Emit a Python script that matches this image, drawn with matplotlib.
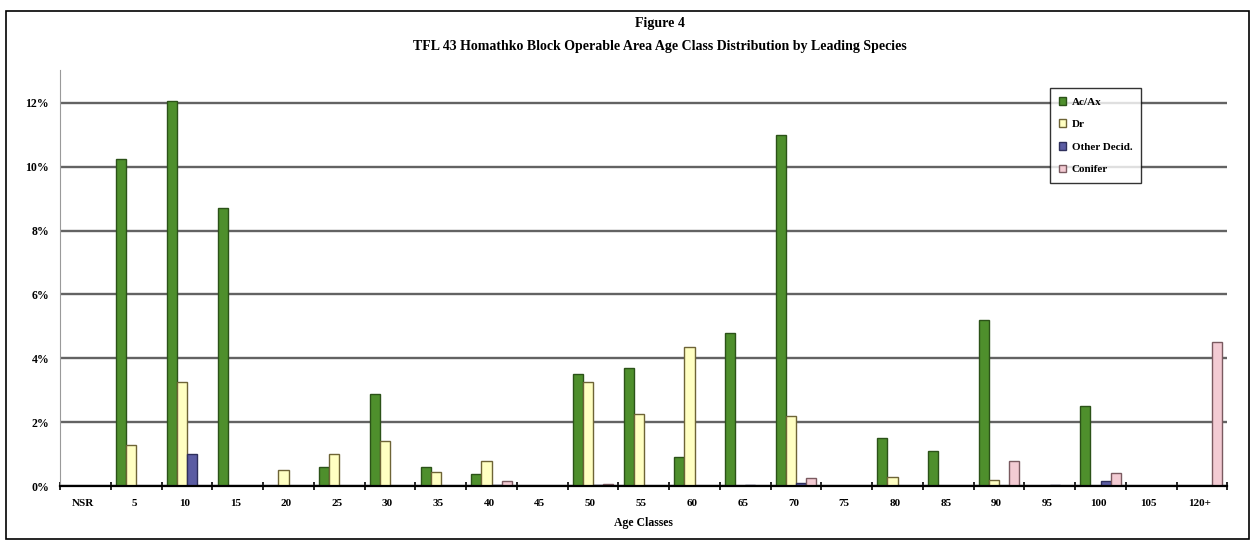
import numpy as np
import matplotlib.pyplot as plt
from matplotlib.ticker import FuncFormatter
from matplotlib.patches import Rectangle

# age classes along the x axis
age_classes = ["NSR", "5", "10", "15", "20", "25", "30", "35", "40", "45", "50", "55",
               "60", "65", "70", "75", "80", "85", "90", "95", "100", "105", "120+"]

# percent of operable area by leading species
ac_ax = [0, 10.25, 12.05, 8.7, 0, 0.6, 2.9, 0.6, 0.37, 0, 3.5, 3.7,
         0.9, 4.8, 11.0, 0, 1.5, 1.1, 5.2, 0, 2.5, 0, 0]
dr = [0, 1.3, 3.25, 0, 0.5, 1.0, 1.4, 0.45, 0.8, 0, 3.25, 2.25,
      4.35, 0, 2.2, 0, 0.3, 0, 0.2, 0, 0, 0, 0]
other_decid = [0, 0, 1.0, 0, 0, 0, 0, 0, 0.05, 0, 0.03, 0,
               0, 0.05, 0.1, 0, 0, 0, 0, 0.03, 0.15, 0, 0]
conifer = [0, 0, 0, 0, 0, 0, 0, 0, 0.15, 0, 0.07, 0,
           0, 0, 0.25, 0, 0, 0, 0.8, 0, 0.4, 0, 4.5]

series = [
    ("Ac/Ax", ac_ax, "#4e8f2c", "#2b5218"),
    ("Dr", dr, "#ffffc2", "#6e6436"),
    ("Other Decid.", other_decid, "#5b5ca3", "#2e2f5c"),
    ("Conifer", conifer, "#f3cbd3", "#7a5a60"),
]

serif = "Liberation Serif"
plt.rcParams["font.family"] = serif
plt.rcParams["font.weight"] = "bold"

fig = plt.figure(figsize=(12.55, 5.42), dpi=100)
ax = fig.add_axes([0.048, 0.103, 0.930, 0.768])

x = np.arange(len(age_classes))
w = 0.2
offsets = [-0.3, -0.1, 0.1, 0.3]
handles = []
for (name, vals, fc, ec), off in zip(series, offsets):
    b = ax.bar(x + off, vals, width=w, color=fc, edgecolor=ec, linewidth=1.0,
               label=name, zorder=3)
    handles.append(b)

ax.set_xlim(-0.5, len(age_classes) - 0.5)
ax.set_ylim(0, 13.03)
ax.set_yticks(np.arange(0, 13, 2))
ax.yaxis.set_major_formatter(FuncFormatter(lambda v, p: f"{v:.0f}%"))
ax.set_xticks(x - 0.05)
ax.set_xticklabels(age_classes)
ax.set_xticks(np.arange(-0.5, len(age_classes), 1), minor=True)
ax.tick_params(axis="x", which="major", length=0, labelsize=8, pad=9)
ax.tick_params(axis="x", which="minor", length=6, direction="inout", width=1.2)
ax.tick_params(axis="y", length=0, labelsize=8.5, pad=8)
for t in ax.get_xticklabels() + ax.get_yticklabels():
    t.set_fontweight("bold")

ax.grid(axis="y", color="#636363", linewidth=1.7, zorder=1)
for s in ["top", "right"]:
    ax.spines[s].set_visible(False)
ax.spines["left"].set_color("#9a9a9a")
ax.spines["bottom"].set_color("black")
ax.spines["bottom"].set_linewidth(1.6)
ax.spines["bottom"].set_zorder(4)

ax.set_xlabel("Age Classes", fontsize=8.5, fontweight="bold", labelpad=7)

leg = ax.legend(handles=handles, loc="upper left", bbox_to_anchor=(0.843, 0.97),
                frameon=True, fancybox=False, handlelength=0.7,
                handleheight=0.7, handletextpad=0.5, labelspacing=1.15,
                borderpad=0.8, prop={"family": serif, "weight": "bold", "size": 8})
leg.get_frame().set_edgecolor("black")
leg.get_frame().set_linewidth(1.0)
leg.set_zorder(5)

fig.text(0.526, 0.957, "Figure 4", ha="center", va="center",
         fontsize=10, fontweight="bold")
fig.text(0.526, 0.915,
         "TFL 43 Homathko Block Operable Area Age Class Distribution by Leading Species",
         ha="center", va="center", fontsize=10, fontweight="bold")

# page frame
fig.patches.append(Rectangle((0.005, 0.005), 0.99, 0.975, transform=fig.transFigure,
                             fill=False, edgecolor="black", linewidth=1.2))

fig.savefig("out.png", dpi=100)
